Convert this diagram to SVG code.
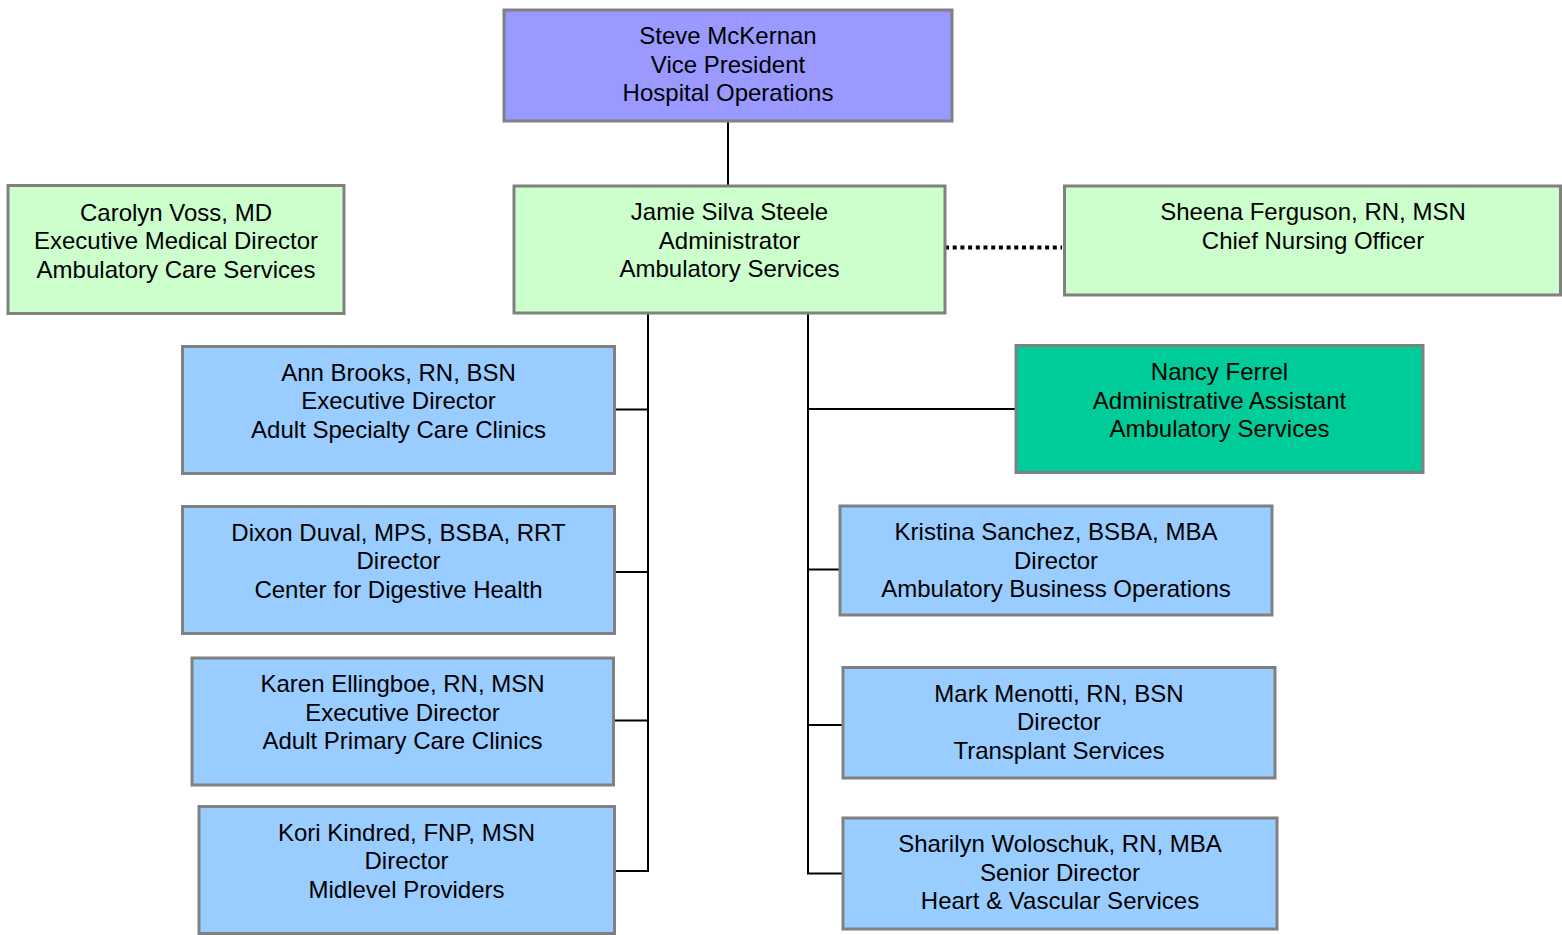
<svg xmlns="http://www.w3.org/2000/svg" width="1562" height="935" viewBox="0 0 1562 935">
<style>
.box{stroke:#808080;stroke-width:3}
.vp{fill:#9999FF}
.gr{fill:#CCFFCC}
.bl{fill:#99CCFF}
.tl{fill:#00CC99}
text{font-family:"Liberation Sans",Arial,sans-serif;font-size:24px;fill:#000;text-anchor:middle}
.ln{stroke:#000;stroke-width:2;fill:none}
.dot{stroke:#000;stroke-width:4;stroke-dasharray:4 3.7;fill:none}
</style>
<rect width="1562" height="935" fill="#fff"/>
<g id="connectors">
<line class="ln" x1="728" y1="121" x2="728" y2="186"/>
<line class="dot" x1="945" y1="247.5" x2="1062" y2="247.5"/>
<polyline class="ln" points="648,313 648,871"/>
<line class="ln" x1="615" y1="409.5" x2="648" y2="409.5"/>
<line class="ln" x1="615" y1="572" x2="648" y2="572"/>
<line class="ln" x1="614" y1="720.5" x2="648" y2="720.5"/>
<line class="ln" x1="615" y1="871" x2="649" y2="871"/>
<polyline class="ln" points="808,313 808,873.5"/>
<line class="ln" x1="807" y1="409" x2="1015" y2="409"/>
<line class="ln" x1="807" y1="569.5" x2="840" y2="569.5"/>
<line class="ln" x1="807" y1="725" x2="843" y2="725"/>
<line class="ln" x1="807" y1="873.5" x2="843" y2="873.5"/>
</g>
<g id="vp">
<rect class="box vp" x="504" y="10" width="448" height="111"/>
<text x="728" y="44">Steve McKernan</text>
<text x="728" y="72.5">Vice President</text>
<text x="728" y="101">Hospital Operations</text>
</g>
<g id="admin">
<rect class="box gr" x="514" y="186" width="431" height="127"/>
<text x="729.5" y="220">Jamie Silva Steele</text>
<text x="729.5" y="248.5">Administrator</text>
<text x="729.5" y="277">Ambulatory Services</text>
</g>
<g id="medical">
<rect class="box gr" x="8" y="185.5" width="336" height="128"/>
<text x="176" y="220.5">Carolyn Voss, MD</text>
<text x="176" y="249">Executive Medical Director</text>
<text x="176" y="277.5">Ambulatory Care Services</text>
</g>
<g id="cno">
<rect class="box gr" x="1064.5" y="186" width="496" height="109"/>
<text x="1313" y="220">Sheena Ferguson, RN, MSN</text>
<text x="1313" y="248.5">Chief Nursing Officer</text>
</g>
<g id="assistant">
<rect class="box tl" x="1016" y="345.5" width="407" height="127"/>
<text x="1219.5" y="380">Nancy Ferrel</text>
<text x="1219.5" y="408.5">Administrative Assistant</text>
<text x="1219.5" y="437">Ambulatory Services</text>
</g>
<g id="brooks">
<rect class="box bl" x="182.5" y="346.5" width="432" height="127"/>
<text x="398.5" y="380.5">Ann Brooks, RN, BSN</text>
<text x="398.5" y="409">Executive Director</text>
<text x="398.5" y="437.5">Adult Specialty Care Clinics</text>
</g>
<g id="duval">
<rect class="box bl" x="182.5" y="506.5" width="432" height="127"/>
<text x="398.5" y="540.5">Dixon Duval, MPS, BSBA, RRT</text>
<text x="398.5" y="569">Director</text>
<text x="398.5" y="597.5">Center for Digestive Health</text>
</g>
<g id="ellingboe">
<rect class="box bl" x="192" y="658" width="421.5" height="127"/>
<text x="402.5" y="692">Karen Ellingboe, RN, MSN</text>
<text x="402.5" y="720.5">Executive Director</text>
<text x="402.5" y="749">Adult Primary Care Clinics</text>
</g>
<g id="kindred">
<rect class="box bl" x="199" y="806.5" width="415.5" height="127"/>
<text x="406.5" y="840.5">Kori Kindred, FNP, MSN</text>
<text x="406.5" y="869">Director</text>
<text x="406.5" y="897.5">Midlevel Providers</text>
</g>
<g id="sanchez">
<rect class="box bl" x="840" y="506" width="432" height="109"/>
<text x="1056" y="540">Kristina Sanchez, BSBA, MBA</text>
<text x="1056" y="568.5">Director</text>
<text x="1056" y="597">Ambulatory Business Operations</text>
</g>
<g id="menotti">
<rect class="box bl" x="843" y="667.5" width="432" height="110.5"/>
<text x="1059" y="701.5">Mark Menotti, RN, BSN</text>
<text x="1059" y="730">Director</text>
<text x="1059" y="758.5">Transplant Services</text>
</g>
<g id="woloschuk">
<rect class="box bl" x="843" y="818" width="434" height="111"/>
<text x="1060" y="852">Sharilyn Woloschuk, RN, MBA</text>
<text x="1060" y="880.5">Senior Director</text>
<text x="1060" y="909">Heart &amp; Vascular Services</text>
</g>
</svg>
